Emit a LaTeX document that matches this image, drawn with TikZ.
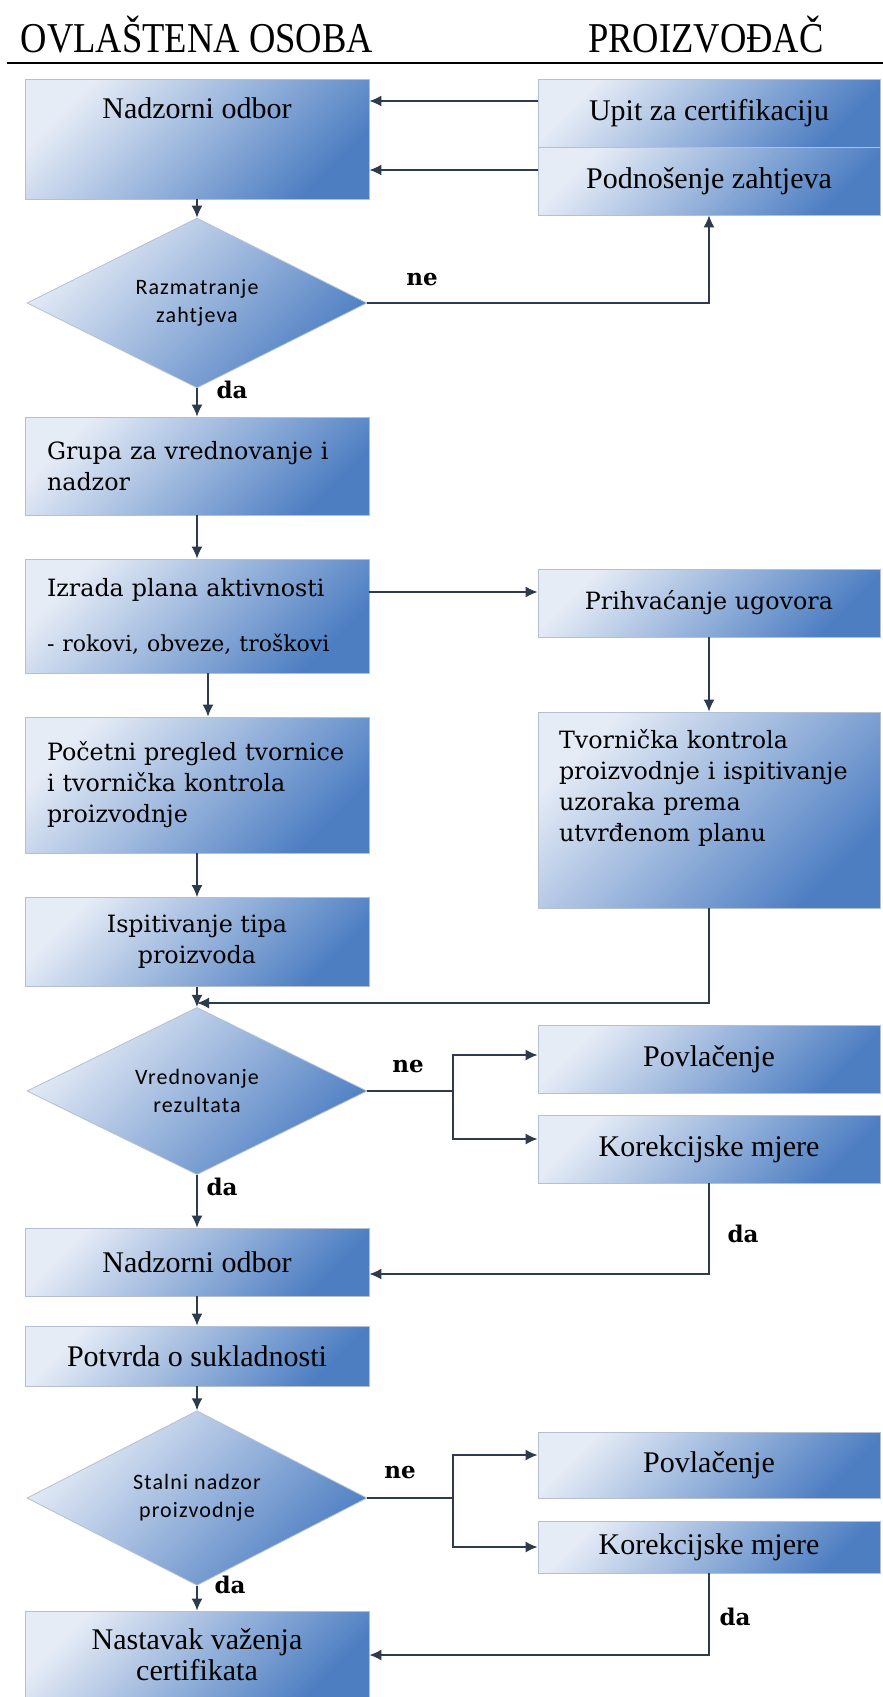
\documentclass[tikz,border=0pt]{standalone}
\usepackage{graphicx}
\usepackage{fontspec}
\setmainfont{Liberation Serif}
\newfontfamily\widefamily{DejaVu Serif}
\newfontfamily\diafamily{Carlito}[LetterSpace=5]
\usetikzlibrary{shapes.geometric,arrows.meta}
\definecolor{boxlight}{HTML}{E6ECF6}
\definecolor{boxmid}{HTML}{AFC3E3}
\definecolor{boxdark}{HTML}{4D7EC2}
\definecolor{boxline}{HTML}{B4C0D2}
\definecolor{arrcol}{HTML}{2E3B4C}
\newcommand\tallfont{\fontsize{30}{31}\selectfont}
\newcommand\widefont{\widefamily\fontsize{23.8}{31}\selectfont}
\newcommand\diafont{\diafamily\fontsize{22}{28}\selectfont}
\begin{document}
\begin{tikzpicture}[x=1pt,y=-1pt,
	box/.style={draw=boxline, line width=0.8pt, top color=boxlight, middle color=boxmid, bottom color=boxdark, shading angle=45, inner sep=0pt, minimum width=344pt, font=\tallfont, align=center},
	rbox/.style={box, minimum width=342pt},
	wbox/.style={box, font=\widefont},
	lbox/.style={box, font=\widefont, text width=300pt, align=left},
	dec/.style={diamond, draw=boxline, line width=0.8pt, top color=boxlight, middle color=boxmid, bottom color=boxdark, shading angle=45, inner sep=0pt, minimum width=340pt, minimum height=133pt, font=\diafont, align=center},
	arr/.style={draw=arrcol, line width=1.6pt, -{Latex[length=12pt,width=11pt]}},
	lnk/.style={draw=arrcol, line width=1.6pt},
	yesno/.style={font=\widefamily\bfseries\fontsize{23}{28}\selectfont, anchor=base},
	head/.style={anchor=base, font=\fontsize{42.5}{48}\selectfont}]
	\fill[white] (0,0) rectangle (883,1697);
	\clip (0,0) rectangle (883,1697);
	\node[head] (osoba) at (197,52) {\scalebox{0.86}[1]{OVLAŠTENA OSOBA}};
	\node[head] (proizv) at (706,52) {\scalebox{0.86}[1]{PROIZVOĐAČ}};
	\draw[line width=1.6pt] (7,63) -- (883,63);
	\node[box, minimum height=120pt, text height=39pt, text depth=81pt] (nad1) at (197,139) {Nadzorni odbor};
	\node[rbox, minimum height=68pt] (upit) at (709,113) {Upit za certifikaciju};
	\node[rbox, minimum height=68pt] (pod) at (709,181) {Podnošenje zahtjeva};
	\draw[arr] ([yshift=12pt]upit.west) -- ([yshift=12pt]upit.west -| nad1.east);
	\draw[arr] ([yshift=11pt]pod.west) -- ([yshift=11pt]pod.west -| nad1.east);
	\node[dec] (dec1) at (197,303) {Razmatranje\\zahtjeva};
	\draw[arr] (nad1) -- (dec1);
	\draw[arr] (dec1.east) -| (pod.south);
	\node[lbox, minimum height=98pt] (grupa) at (197,466) {Grupa za vrednovanje i\\nadzor};
	\draw[arr] (dec1) -- (grupa);
	\node[lbox, minimum height=114pt] (izrada) at (197,616) {Izrada plana aktivnosti\\[24pt]{\fontsize{22}{26}\selectfont - rokovi, obveze, troškovi}};
	\draw[arr] (grupa) -- (izrada);
	\node[rbox, minimum height=68pt, font=\widefont] (prih) at (709,603) {Prihvaćanje ugovora};
	\draw[arr] ([yshift=24pt]izrada.east) -- ([yshift=24pt]izrada.east -| prih.west);
	\node[rbox, minimum height=196pt, font=\widefont, text width=300pt, align=left, text height=36pt, text depth=160pt] (tvorn) at (709,810) {Tvornička kontrola\\proizvodnje i ispitivanje\\uzoraka prema\\utvrđenom planu};
	\draw[arr] (prih) -- (tvorn);
	\node[lbox, minimum height=136pt] (pocetni) at (197,785) {Početni pregled tvornice\\i tvornička kontrola\\proizvodnje};
	\draw[arr] ([xshift=11pt]izrada.south) -- ([xshift=11pt]pocetni.north);
	\node[wbox, minimum height=89pt] (ispit) at (197,942) {Ispitivanje tipa\\proizvoda};
	\draw[arr] (pocetni) -- (ispit);
	\node[dec] (dec2) at (197,1091) {Vrednovanje\\rezultata};
	\coordinate (spoj) at (197,1003);
	\draw[arr] (tvorn.south) |- (spoj);
	\draw[arr] (ispit) -- (dec2);
	\node[rbox, minimum height=68pt] (pov2) at (709,1059) {Povlačenje};
	\node[rbox, minimum height=68pt] (kor2) at (709,1149) {Korekcijske mjere};
	\coordinate (vil2) at (453,1091);
	\draw[lnk] (dec2.east) -- (vil2);
	\draw[arr] (vil2) |- ([yshift=4pt]pov2.west);
	\draw[arr] (vil2) |- ([yshift=10pt]kor2.west);
	\node[box, minimum height=68pt] (nad2) at (197,1262) {Nadzorni odbor};
	\draw[arr] (dec2) -- (nad2);
	\draw[arr] (kor2.south) |- ([yshift=-12pt]nad2.east);
	\node[box, minimum height=60pt] (potvrda) at (197,1356) {Potvrda o sukladnosti};
	\draw[arr] (nad2) -- (potvrda);
	\node[dec] (dec3) at (197,1498) {Stalni nadzor\\proizvodnje};
	\draw[arr] (potvrda) -- (dec3);
	\node[rbox, minimum height=66pt] (pov3) at (709,1465) {Povlačenje};
	\node[rbox, minimum height=52pt] (kor3) at (709,1547) {Korekcijske mjere};
	\coordinate (vil3) at (453,1498);
	\draw[lnk] (dec3.east) -- (vil3);
	\draw[arr] (vil3) |- ([yshift=10pt]pov3.west);
	\draw[arr] (vil3) |- (kor3.west);
	\node[box, minimum height=88pt] (nast) at (197,1655) {Nastavak važenja\\certifikata};
	\draw[arr] (dec3) -- (nast);
	\draw[arr] (kor3.south) |- (nast.east);
	\foreach \n/\x/\y in {ne1/422/285, ne2/408/1072, ne3/400/1478} {\node[yesno] (\n) at (\x,\y) {ne};}
	\foreach \n/\x/\y in {da1/232/398, da2/222/1195, da3/743/1242, da4/230/1593, da5/735/1625} {\node[yesno] (\n) at (\x,\y) {da};}
\end{tikzpicture}
\end{document}
